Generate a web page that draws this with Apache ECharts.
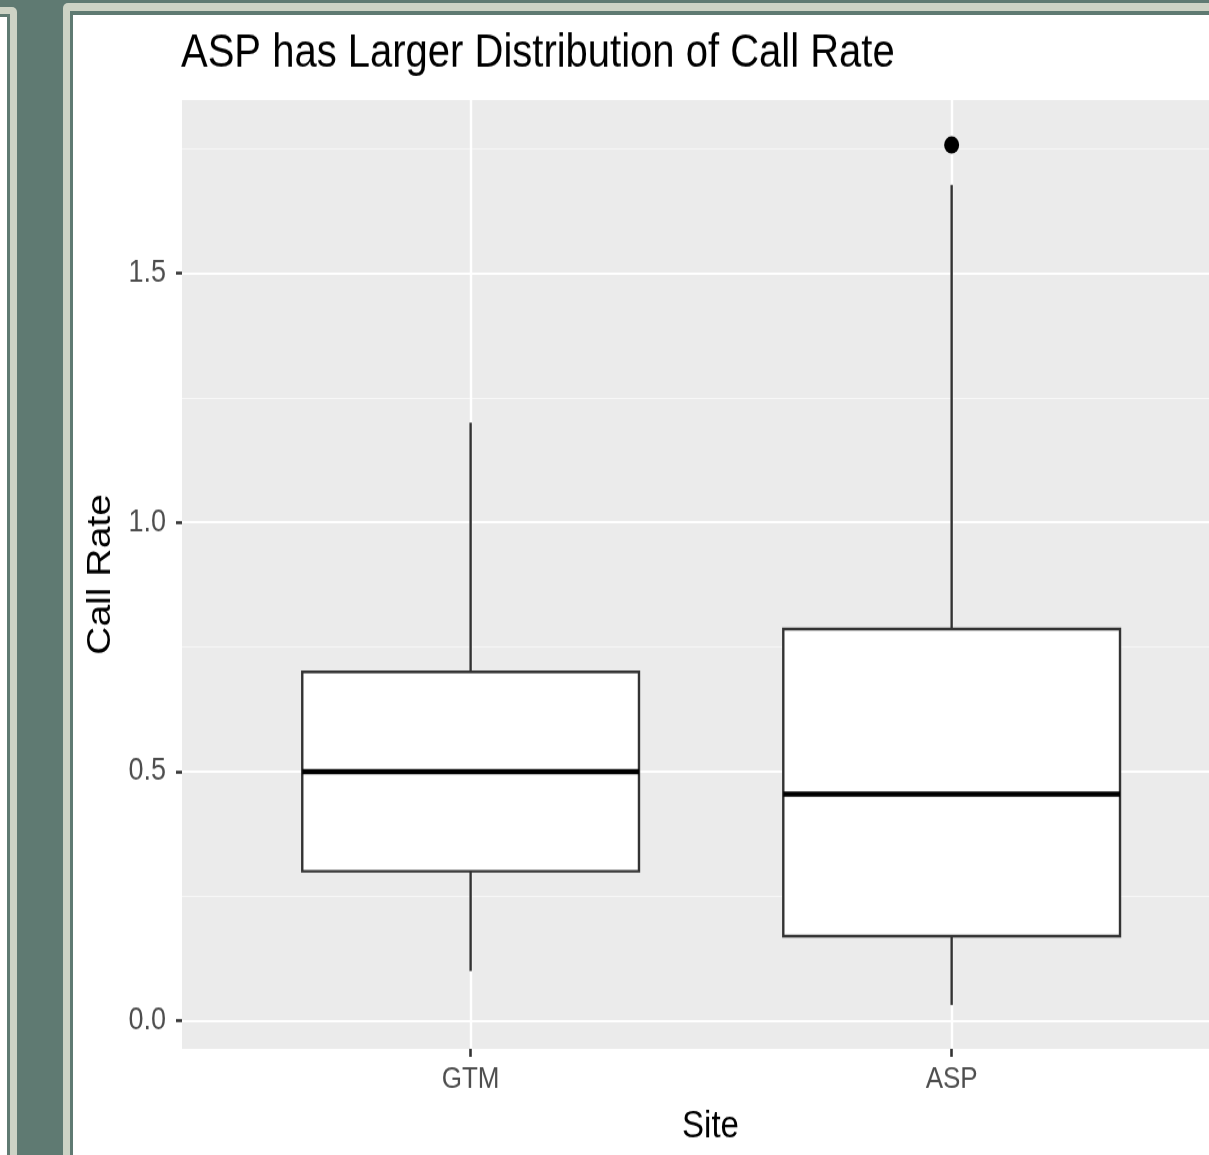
<!DOCTYPE html>
<html>
<head>
<meta charset="utf-8">
<script src="https://cdn.jsdelivr.net/npm/echarts@6/dist/echarts.min.js"></script>
<style>
	html, body { margin: 0; padding: 0; width: 1209px; height: 1155px; overflow: hidden; background: #5f7a72; }
	.box { position: absolute; }
	#chart { position: absolute; left: 0; top: 0; width: 1209px; height: 1004px; transform: scaleY(1.15); transform-origin: 0 0; }
</style>
</head>
<body>
<!-- page frame around the screenshot -->
<div class="box" style="left:-30px; top:7px; width:47px; height:1200px; background:#cdd3c5; border-radius:5px;"></div>
<div class="box" style="left:-30px; top:14px; width:40px; height:1200px; background:#5f7a72;"></div>
<div class="box" style="left:-30px; top:17px; width:37px; height:1200px; background:#fff;"></div>
<div class="box" style="left:63px; top:3px; width:1200px; height:1200px; background:#cdd3c5; border-radius:5px;"></div>
<div class="box" style="left:70px; top:11px; width:1200px; height:1200px; background:#5f7a72;"></div>
<div class="box" style="left:73px; top:15px; width:1200px; height:1200px; background:#fff;"></div>
<div id="chart"></div>
<script>
var sites = ['GTM', 'ASP'];
var sitePos = [1, 2];
var whiskerLow = [0.10, 0.032];
var lowerQ = [0.30, 0.17];
var medians = [0.50, 0.455];
var upperQ = [0.70, 0.786];
var whiskerHigh = [1.20, 1.677];
var outlierSite = [2];
var outlierValue = [1.757];
var yTicks = [0, 0.5, 1.0, 1.5];
var yMinor = [0.25, 0.75, 1.25, 1.75];

var boxData = [];
for (var i = 0; i < sites.length; ++i) {
	boxData.push([sitePos[i], whiskerLow[i], lowerQ[i], medians[i], upperQ[i], whiskerHigh[i]]);
}
var outliers = [];
for (var i = 0; i < outlierSite.length; ++i) {
	outliers.push([outlierSite[i], outlierValue[i]]);
}

var gridLines = [];
for (var i = 0; i < yMinor.length; ++i) {
	gridLines.push({yAxis: yMinor[i], lineStyle: {color: '#f7f7f7', width: 1.2, type: 'solid'}});
}
for (var i = 0; i < yTicks.length; ++i) {
	gridLines.push({yAxis: yTicks[i], lineStyle: {color: '#ffffff', width: 2.2, type: 'solid'}});
}
for (var i = 0; i < sitePos.length; ++i) {
	gridLines.push({xAxis: sitePos[i], lineStyle: {color: '#ffffff', width: 2.4, type: 'solid'}});
}

var boxWidth = 0.7;

function renderBox(params, api) {
	var x = api.value(0);
	var lo = api.coord([x, api.value(1)]);
	var q1 = api.coord([x, api.value(2)]);
	var md = api.coord([x, api.value(3)]);
	var q3 = api.coord([x, api.value(4)]);
	var hi = api.coord([x, api.value(5)]);
	var half = api.size([boxWidth, 0])[0] / 2;
	var edge = {stroke: '#333333', lineWidth: 2.4};
	return {
		type: 'group',
		children: [
			{type: 'line', shape: {x1: lo[0], y1: lo[1], x2: q1[0], y2: q1[1]}, style: edge},
			{type: 'line', shape: {x1: q3[0], y1: q3[1], x2: hi[0], y2: hi[1]}, style: edge},
			{type: 'rect', shape: {x: q3[0] - half, y: q3[1], width: half * 2, height: q1[1] - q3[1]},
				style: {fill: '#ffffff', stroke: '#333333', lineWidth: 2.4}},
			{type: 'line', shape: {x1: md[0] - half, y1: md[1], x2: md[0] + half, y2: md[1]},
				style: {stroke: '#000000', lineWidth: 4.6}}
		]
	};
}

var chart = echarts.init(document.getElementById('chart'));
var font = 'Liberation Sans, Arial, Helvetica, sans-serif';
var option = {
	animation: false,
	backgroundColor: 'transparent',
	title: {
		text: 'ASP has Larger Distribution of Call Rate',
		left: 176,
		top: 22,
		textStyle: {fontFamily: font, fontSize: 40, fontWeight: 'normal', color: '#000'}
	},
	grid: {
		left: 182,
		top: 87,
		right: 0,
		height: 825,
		show: true,
		backgroundColor: '#ebebeb',
		borderWidth: 0
	},
	xAxis: {
		type: 'value',
		min: 0.4,
		max: 2.535,
		axisLine: {show: false, onZero: false},
		splitLine: {show: false},
		axisTick: {show: true, customValues: sitePos, length: 7, lineStyle: {color: '#333', width: 2.6}},
		axisLabel: {
			customValues: sitePos,
			formatter: function(v) { return sites[Math.round(v) - 1]; },
			color: '#4d4d4d', fontFamily: font, fontSize: 26, margin: 14
		},
		name: 'Site',
		nameLocation: 'middle',
		nameGap: 51,
		nameTextStyle: {fontFamily: font, fontSize: 33, color: '#000', padding: [0, 0, 0, 30]}
	},
	yAxis: {
		type: 'value',
		min: -0.056,
		max: 1.847,
		axisLine: {show: false, onZero: false},
		splitLine: {show: false},
		axisTick: {show: true, customValues: yTicks, length: 6, lineStyle: {color: '#333', width: 2.6}},
		axisLabel: {
			customValues: yTicks,
			formatter: function(v) { return v.toFixed(1); },
			color: '#4d4d4d', fontFamily: font, fontSize: 27, margin: 16
		},
		name: 'Call Rate',
		nameLocation: 'middle',
		nameRotate: 90,
		nameGap: 56,
		nameTextStyle: {fontFamily: font, fontSize: 34, color: '#000'}
	},
	series: [{
		type: 'line',
		data: [],
		silent: true,
		z: 1,
		markLine: {
			silent: true,
			z: 1,
			symbol: 'none',
			label: {show: false},
			animation: false,
			data: gridLines
		}
	}, {
		type: 'custom',
		renderItem: renderBox,
		encode: {x: 0, y: [1, 2, 3, 4, 5]},
		data: boxData,
		z: 3
	}, {
		type: 'scatter',
		data: outliers,
		symbolSize: 15,
		itemStyle: {color: '#000', opacity: 1},
		z: 4
	}]
};
chart.setOption(option);
</script>
</body>
</html>
